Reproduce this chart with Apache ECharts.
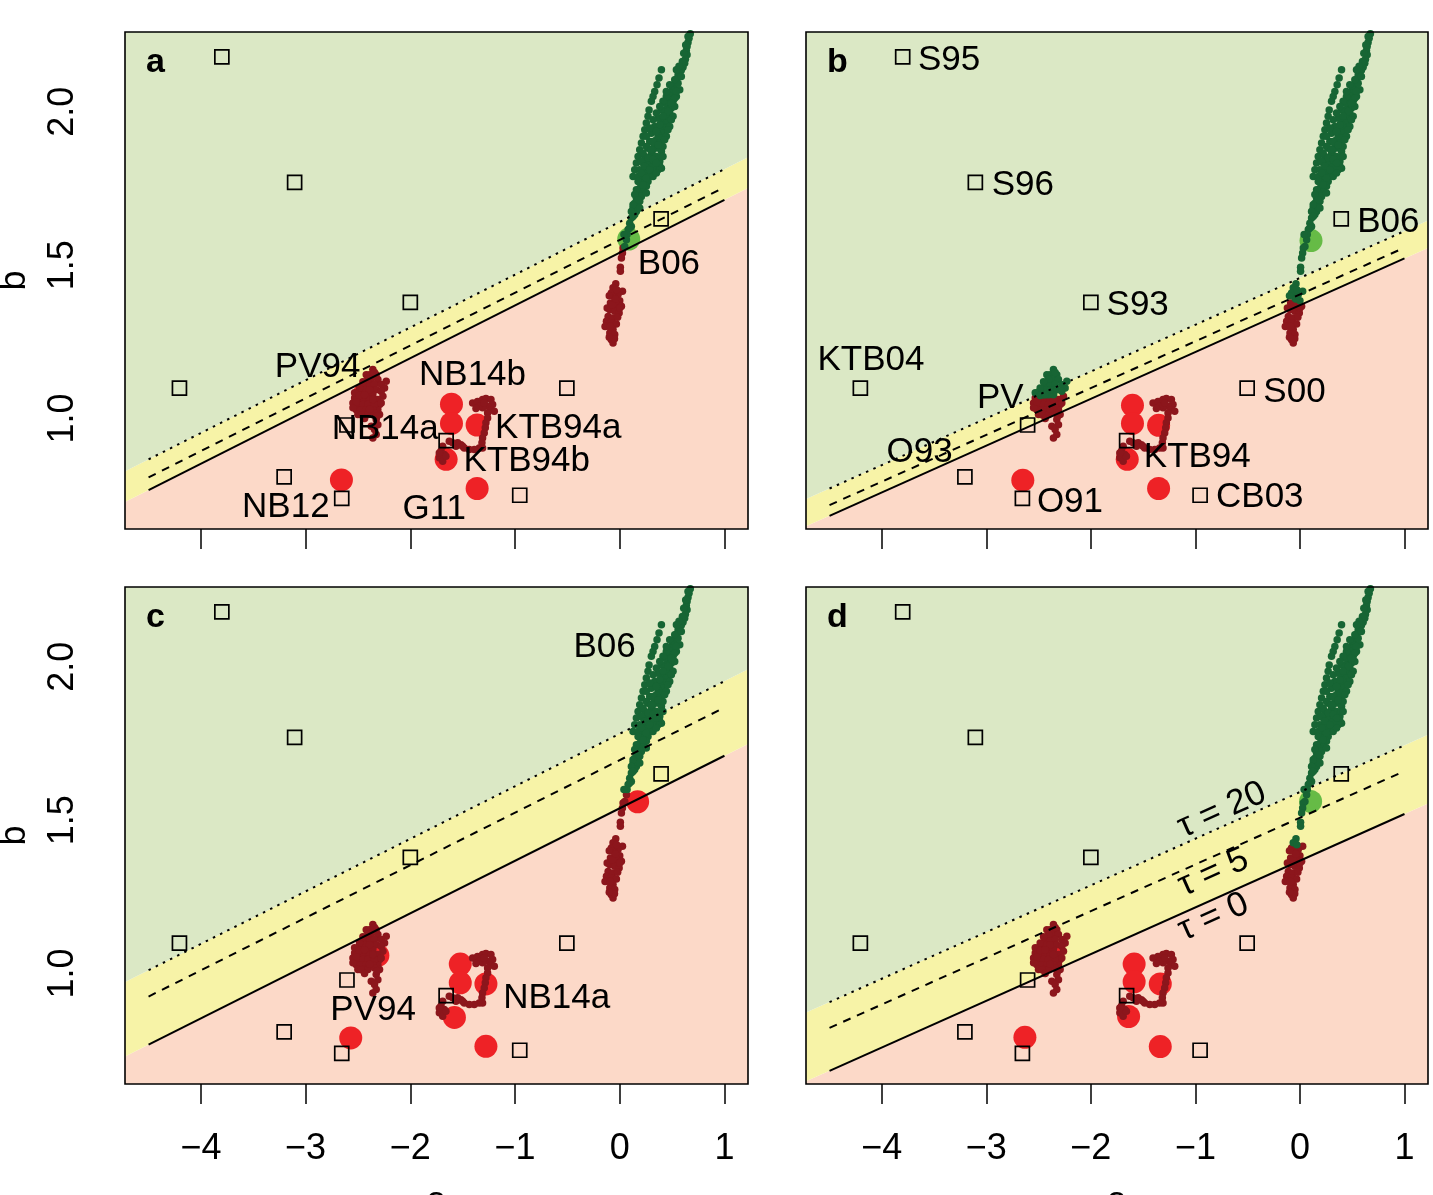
<!DOCTYPE html>
<html>
<head>
<meta charset="utf-8">
<script src="https://cdn.jsdelivr.net/npm/echarts@6/dist/echarts.min.js"></script>
<style>
  html, body { margin: 0; padding: 0; background: #ffffff; }
  #chart { width: 1433px; height: 1195px; }
</style>
</head>
<body>
<div id="chart"></div>
<script>
// ---- axis ticks ----
const xTicks = [-4, -3, -2, -1, 0, 1];
const yTicks = [1.0, 1.5, 2.0];
const panelNames = ['a', 'b', 'c', 'd'];

// ---- threshold lines (b at a = -4.5 and a = 1.0) ----
const lineEndX = [-4.5, 1.0];
const tau0A = [0.767, 1.713], tau5A = [0.808, 1.754], tau20A = [0.867, 1.813];
const tau0B = [0.683, 1.522], tau5B = [0.718, 1.557], tau20B = [0.772, 1.611];
const tau0C = [0.768, 1.710], tau5C = [0.925, 1.867], tau20C = [1.011, 1.953];
const tau0D = [0.683, 1.520], tau5D = [0.823, 1.660], tau20D = [0.907, 1.744];

// ---- reference sites (open squares), same in every panel ----
const siteA = [-3.800, -3.105, -2.000, -4.205, 0.395, -0.505, -3.205, -2.655, -1.658, -0.955, -2.605];
const siteB = [2.179, 1.770, 1.379, 1.099, 1.651, 1.099, 0.810, 0.740, 0.928, 0.750, 0.979];

// ---- point estimates per panel: red = below, green = above ----
const redA = [[-2.658, 0.800], [-1.607, 1.047], [-1.607, 0.984], [-1.362, 0.979], [-1.658, 0.867], [-1.362, 0.772], [-2.440, 1.080]];
const greenA = [[0.086, 1.585]];
const redB = [[-2.651, 0.799], [-1.602, 1.043], [-1.602, 0.984], [-1.352, 0.978], [-1.652, 0.867], [-1.352, 0.772]];
const greenB = [[0.106, 1.580], [-2.430, 1.076]];
const redC = [[-2.569, 0.790], [-1.523, 1.031], [-1.523, 0.970], [-1.278, 0.966], [-1.579, 0.857], [-1.278, 0.763], [0.171, 1.560], [-2.310, 1.059]];
const greenC = [];
const redD = [[-2.631, 0.792], [-1.586, 1.031], [-1.586, 0.973], [-1.336, 0.966], [-1.639, 0.860], [-1.336, 0.762], [-2.377, 1.068]];
const greenD = [[0.102, 1.561]];

// ---- trajectories ----
const trailB06 = [
  [0.674, 2.254], [0.662, 2.240], [0.652, 2.226], [0.643, 2.213], [0.636, 2.200], [0.643, 2.186], [0.627, 2.171],
  [0.620, 2.158], [0.604, 2.145], [0.588, 2.135], [0.573, 2.128], [0.557, 2.120], [0.541, 2.106], [0.534, 2.093],
  [0.515, 2.082], [0.503, 2.072], [0.493, 2.061], [0.483, 2.050], [0.471, 2.039], [0.509, 2.034], [0.461, 2.023],
  [0.493, 2.012], [0.445, 2.006], [0.477, 1.996], [0.429, 1.990], [0.461, 1.979], [0.413, 1.974], [0.445, 1.963],
  [0.398, 1.958], [0.429, 1.947], [0.382, 1.941], [0.413, 1.930], [0.366, 1.925], [0.398, 1.914], [0.350, 1.909],
  [0.382, 1.898], [0.334, 1.892], [0.366, 1.882], [0.318, 1.876], [0.398, 1.871], [0.302, 1.865], [0.350, 1.854],
  [0.286, 1.849], [0.382, 1.838], [0.270, 1.833], [0.334, 1.827], [0.398, 1.816], [0.254, 1.816], [0.302, 1.806],
  [0.239, 1.800], [0.286, 1.789], [0.223, 1.784], [0.270, 1.773], [0.207, 1.768], [0.254, 1.757], [0.191, 1.751],
  [0.223, 1.740], [0.175, 1.735], [0.207, 1.724], [0.159, 1.719], [0.191, 1.708], [0.143, 1.702], [0.175, 1.692],
  [0.127, 1.686], [0.159, 1.675], [0.143, 1.665], [0.111, 1.654], [0.095, 1.637], [0.111, 1.626], [0.080, 1.616],
  [0.398, 2.137], [0.375, 2.110], [0.356, 2.088], [0.334, 2.066], [0.318, 2.050], [0.302, 2.034], [0.280, 2.006],
  [0.270, 1.985], [0.254, 1.963], [0.239, 1.941], [0.223, 1.920], [0.207, 1.898], [0.191, 1.876], [0.175, 1.854],
  [0.159, 1.833], [0.143, 1.811], [0.127, 1.789],
  [0.557, 2.093], [0.573, 2.072], [0.541, 2.050], [0.525, 2.017], [0.509, 1.985], [0.477, 1.952], [0.445, 1.920],
  [0.413, 1.887], [0.398, 1.854], [0.382, 1.822], [0.366, 1.811], [0.318, 1.822],
  [0.445, 2.050], [0.429, 2.028], [0.398, 2.006], [0.366, 1.979], [0.334, 1.952], [0.302, 1.930], [0.286, 1.903],
  [0.270, 1.881], [0.239, 1.854], [0.223, 1.833], [0.191, 1.811], [0.175, 1.789], [0.318, 1.789], [0.350, 1.800],
  [0.525, 2.104], [0.477, 2.088], [0.541, 2.066], [0.445, 2.066], [0.525, 2.044], [0.413, 2.034], [0.493, 2.028],
  [0.382, 2.017], [0.461, 2.001], [0.350, 1.996], [0.413, 1.985], [0.493, 1.974], [0.318, 1.974], [0.382, 1.958],
  [0.461, 1.941], [0.286, 1.947], [0.350, 1.936], [0.429, 1.909], [0.254, 1.920], [0.318, 1.903], [0.366, 1.892],
  [0.254, 1.887], [0.302, 1.876], [0.413, 1.854], [0.223, 1.865], [0.270, 1.849], [0.318, 1.844], [0.207, 1.838],
  [0.239, 1.822], [0.286, 1.811], [0.350, 1.833], [0.207, 1.800], [0.254, 1.784], [0.175, 1.773], [0.223, 1.762],
  [0.159, 1.746], [0.254, 1.735], [0.143, 1.730], [0.175, 1.713], [0.127, 1.697], [0.191, 1.686], [0.111, 1.675],
  [0.127, 1.659], [0.095, 1.621],
  [0.684, 2.262], [0.652, 2.245], [0.630, 2.218], [0.611, 2.191], [0.598, 2.164], [0.566, 2.148], [0.541, 2.137],
  [0.588, 2.115],
  [0.070, 1.600], [0.064, 1.583], [0.048, 1.561], [0.040, 1.600],
  [0.032, 1.556], [0.026, 1.540], [0.016, 1.523], [0.006, 1.493], [0.006, 1.480], [-0.038, 1.439], [-0.064, 1.426],
  [0.026, 1.415], [-0.080, 1.409], [-0.016, 1.404], [-0.048, 1.393], [0.000, 1.384], [-0.089, 1.377], [-0.032, 1.371],
  [0.016, 1.366], [-0.095, 1.355], [-0.048, 1.350], [-0.006, 1.344], [-0.111, 1.333], [-0.064, 1.328], [-0.127, 1.317],
  [-0.080, 1.312], [-0.032, 1.308], [-0.111, 1.301], [-0.064, 1.290], [-0.095, 1.279], [-0.048, 1.274], [-0.080, 1.257],
  [-0.064, 1.246], [-0.100, 1.400], [-0.030, 1.420], [-0.120, 1.360], [-0.070, 1.370], [-0.020, 1.330], [-0.140, 1.300],
  [-0.090, 1.300], [-0.050, 1.260], [-0.100, 1.265], [0.000, 1.360], [-0.040, 1.390]
];
const trailPV = [
  [-2.358, 1.160], [-2.389, 1.143], [-2.326, 1.143], [-2.421, 1.143], [-2.373, 1.127], [-2.310, 1.127], [-2.230, 1.122],
  [-2.437, 1.111], [-2.389, 1.111], [-2.342, 1.111], [-2.278, 1.111], [-2.246, 1.100], [-2.469, 1.094], [-2.421, 1.094],
  [-2.373, 1.094], [-2.326, 1.094], [-2.278, 1.089], [-2.501, 1.084], [-2.453, 1.078], [-2.405, 1.078], [-2.358, 1.078],
  [-2.262, 1.073], [-2.532, 1.067], [-2.485, 1.062], [-2.437, 1.062], [-2.389, 1.062], [-2.310, 1.062], [-2.548, 1.051],
  [-2.501, 1.046], [-2.453, 1.046], [-2.405, 1.046], [-2.294, 1.046], [-2.516, 1.029], [-2.469, 1.029], [-2.421, 1.029],
  [-2.310, 1.029], [-2.501, 1.013], [-2.453, 1.013], [-2.294, 1.013], [-2.326, 0.997], [-2.310, 0.980], [-2.373, 0.975],
  [-2.342, 0.964], [-2.326, 0.948], [-2.358, 0.937], [-2.485, 1.100], [-2.532, 1.084], [-2.342, 1.046], [-2.358, 1.029],
  [-2.405, 1.013], [-2.548, 1.035], [-2.278, 1.051], [-2.342, 1.018], [-2.316, 1.008],
  [-2.405, 1.128], [-2.342, 1.150], [-2.453, 1.120], [-2.485, 1.075], [-2.516, 1.055], [-2.469, 1.012], [-2.437, 1.000],
  [-2.389, 1.094], [-2.358, 1.062], [-2.437, 1.078], [-2.389, 1.030]
];
const trailNB = [
  [-1.405, 1.051], [-1.358, 1.056], [-1.310, 1.062], [-1.278, 1.065], [-1.230, 1.062], [-1.214, 1.046], [-1.262, 1.040],
  [-1.310, 1.035], [-1.342, 1.040], [-1.373, 1.033], [-1.230, 1.029], [-1.198, 1.024], [-1.262, 1.018], [-1.294, 1.051],
  [-1.262, 1.002], [-1.278, 0.986], [-1.284, 0.970], [-1.294, 0.953], [-1.310, 0.937], [-1.316, 0.921], [-1.310, 0.904],
  [-1.342, 0.904], [-1.389, 0.899], [-1.437, 0.899], [-1.485, 0.904], [-1.517, 0.915], [-1.548, 0.921], [-1.564, 0.910],
  [-1.501, 0.910], [-1.596, 0.921], [-1.628, 0.926], [-1.691, 0.910], [-1.707, 0.894], [-1.676, 0.883], [-1.723, 0.872],
  [-1.691, 0.861], [-1.660, 0.877], [-1.723, 0.888]
];
// b value from which a trajectory is drawn green, per panel
const splitB06 = [1.56, 1.38, 1.59, 1.42];
const splitPV = [9, 1.075, 9, 9];

// ---- text labels ----
const labelsA = [
  { name: 'B06', value: [0.470, 1.502] }, { name: 'PV94', value: [-2.885, 1.166] },
  { name: 'NB14b', value: [-1.406, 1.140] }, { name: 'NB14a', value: [-2.240, 0.965] },
  { name: 'KTB94a', value: [-0.587, 0.968] }, { name: 'KTB94b', value: [-0.889, 0.860] },
  { name: 'NB12', value: [-3.189, 0.710] }, { name: 'G11', value: [-1.772, 0.704] }
];
const labelsB = [
  { name: 'S95', value: [-3.356, 2.168] }, { name: 'S96', value: [-2.651, 1.761] },
  { name: 'S93', value: [-1.552, 1.370] }, { name: 'KTB04', value: [-4.104, 1.190] },
  { name: 'B06', value: [0.846, 1.641] }, { name: 'S00', value: [-0.052, 1.087] },
  { name: 'PV', value: [-2.867, 1.065] }, { name: 'O93', value: [-3.638, 0.891] },
  { name: 'KTB94', value: [-0.982, 0.875] }, { name: 'O91', value: [-2.200, 0.728] },
  { name: 'CB03', value: [-0.384, 0.742] }
];
const labelsC = [
  { name: 'B06', value: [-0.144, 2.063] }, { name: 'PV94', value: [-2.356, 0.879] },
  { name: 'NB14a', value: [-0.602, 0.920] }
];
const labelsD = [];
const tauLabelsD = [
  { name: '\u03C4 = 20', value: [-0.746, 1.533] },
  { name: '\u03C4 = 5', value: [-0.828, 1.329] },
  { name: '\u03C4 = 0', value: [-0.828, 1.184] }
];

// ---- layout ----
const FONT = '"Liberation Sans", Arial, Helvetica, sans-serif';
const X_MIN = -4.725, X_MAX = 1.225, Y_MIN = 0.64, Y_MAX = 2.26;
const gridBoxes = [
  { left: 125, top: 32, width: 623, height: 497 },
  { left: 806, top: 32, width: 622, height: 497 },
  { left: 125, top: 587, width: 623, height: 497 },
  { left: 806, top: 587, width: 622, height: 497 }
];
const C_GREEN_BG = '#DBE8C5', C_YELLOW_BG = '#F7F3A7', C_PINK_BG = '#FCD9C8';
const C_DARKRED = '#8C161C', C_DARKGREEN = '#176534', C_RED = '#EE2226', C_LIGHTGREEN = '#66BB46';

const tau0s = [tau0A, tau0B, tau0C, tau0D];
const tau5s = [tau5A, tau5B, tau5C, tau5D];
const tau20s = [tau20A, tau20B, tau20C, tau20D];
const reds = [redA, redB, redC, redD];
const greens = [greenA, greenB, greenC, greenD];
const labelSets = [labelsA, labelsB, labelsC, labelsD];

function minusFmt(v) {
  return v < 0 ? '\u2212' + Math.abs(v) : String(v);
}

const textLabel = {
  show: true, position: 'inside', formatter: '{b}', fontSize: 35, color: '#000000',
  fontFamily: FONT, textBorderWidth: 0, textShadowBlur: 0, opacity: 1
};

const grids = [], xAxes = [], yAxes = [], series = [], graphics = [];

panelNames.forEach(function (p, i) {
  const box = gridBoxes[i];
  const bottomRow = i >= 2, leftCol = (i % 2) === 0;
  grids.push(Object.assign({ containLabel: false, outerBoundsMode: 'none' }, box));

  xAxes.push({
    gridIndex: i, type: 'value', min: X_MIN, max: X_MAX,
    axisLine: { show: false }, splitLine: { show: false },
    axisTick: { show: true, length: 20, customValues: xTicks, lineStyle: { color: '#000', width: 1.5 } },
    axisLabel: { show: bottomRow, customValues: xTicks, formatter: minusFmt, fontSize: 36, color: '#000', fontFamily: FONT, margin: 47 },
    name: bottomRow ? 'a' : '', nameLocation: 'middle', nameGap: 100,
    nameTextStyle: { fontSize: 36, color: '#000', fontFamily: FONT }
  });
  yAxes.push({
    gridIndex: i, type: 'value', min: Y_MIN, max: Y_MAX,
    axisLine: { show: false }, splitLine: { show: false },
    axisTick: { show: true, length: 20, customValues: yTicks, lineStyle: { color: '#000', width: 1.5 } },
    axisLabel: { show: leftCol, customValues: yTicks, rotate: 90, formatter: function (v) { return v.toFixed(1); },
                 fontSize: 36, color: '#000', fontFamily: FONT, margin: 44 },
    name: leftCol ? 'b' : '', nameLocation: 'middle', nameGap: 92,
    nameTextStyle: { fontSize: 36, color: '#000', fontFamily: FONT }
  });

  const t0 = tau0s[i], t5 = tau5s[i], t20 = tau20s[i];

  // background regions: above tau=20 line, between tau=20 and tau=0, below tau=0
  series.push({
    type: 'custom', xAxisIndex: i, yAxisIndex: i, silent: true, clip: true,
    data: [[t0[0], t0[1], t20[0], t20[1]]],
    renderItem: function (params, api) {
      const x0 = lineEndX[0], x1 = lineEndX[1];
      function along(ya, yb, x) { return ya + (yb - ya) * (x - x0) / (x1 - x0); }
      const s0 = api.value(0), s1 = api.value(1), d0 = api.value(2), d1 = api.value(3);
      const sl = along(s0, s1, X_MIN), sr = along(s0, s1, X_MAX);
      const dl = along(d0, d1, X_MIN), dr = along(d0, d1, X_MAX);
      function poly(pts, color) {
        return { type: 'polygon', shape: { points: pts.map(function (q) { return api.coord(q); }) },
                 style: { fill: color, stroke: null } };
      }
      return { type: 'group', children: [
        poly([[X_MIN, Y_MIN], [X_MAX, Y_MIN], [X_MAX, sr], [X_MIN, sl]], C_PINK_BG),
        poly([[X_MIN, sl], [X_MAX, sr], [X_MAX, dr], [X_MIN, dl]], C_YELLOW_BG),
        poly([[X_MIN, dl], [X_MAX, dr], [X_MAX, Y_MAX], [X_MIN, Y_MAX]], C_GREEN_BG)
      ] };
    }
  });

  // threshold lines
  [[t0, 'solid'], [t5, [8, 7]], [t20, [2.5, 5.5]]].forEach(function (ln) {
    series.push({
      type: 'line', xAxisIndex: i, yAxisIndex: i, symbol: 'none', silent: true,
      data: [[lineEndX[0], ln[0][0]], [lineEndX[1], ln[0][1]]],
      lineStyle: { color: '#000', width: 2, type: ln[1] }
    });
  });

  // point estimates
  series.push({
    type: 'scatter', xAxisIndex: i, yAxisIndex: i, symbol: 'circle', symbolSize: 23, silent: true,
    data: reds[i], itemStyle: { color: C_RED, opacity: 1 }
  });
  series.push({
    type: 'scatter', xAxisIndex: i, yAxisIndex: i, symbol: 'circle', symbolSize: 23, silent: true,
    data: greens[i], itemStyle: { color: C_LIGHTGREEN, opacity: 1 }
  });

  // trajectories
  const darkPts = [], greenPts = [];
  trailB06.forEach(function (q) { (q[1] >= splitB06[i] ? greenPts : darkPts).push(q); });
  trailPV.forEach(function (q) { (q[1] >= splitPV[i] ? greenPts : darkPts).push(q); });
  trailNB.forEach(function (q) { darkPts.push(q); });
  series.push({
    type: 'scatter', xAxisIndex: i, yAxisIndex: i, symbolSize: 7.5, silent: true,
    data: darkPts, itemStyle: { color: C_DARKRED, opacity: 1 }
  });
  series.push({
    type: 'scatter', xAxisIndex: i, yAxisIndex: i, symbolSize: 7.5, silent: true,
    data: greenPts, itemStyle: { color: C_DARKGREEN, opacity: 1 }
  });

  // reference sites
  series.push({
    type: 'scatter', xAxisIndex: i, yAxisIndex: i, symbol: 'rect', symbolSize: 14, silent: true,
    data: siteA.map(function (a, k) { return [a, siteB[k]]; }),
    itemStyle: { color: 'rgba(0,0,0,0)', borderColor: '#000', borderWidth: 1.7, opacity: 1 }
  });

  // site labels
  series.push({
    type: 'scatter', xAxisIndex: i, yAxisIndex: i, symbolSize: 0, silent: true,
    data: labelSets[i], itemStyle: { opacity: 1 },
    label: textLabel
  });

  if (p === 'd') {
    series.push({
      type: 'scatter', xAxisIndex: i, yAxisIndex: i, symbolSize: 0, silent: true,
      data: tauLabelsD, itemStyle: { opacity: 1 },
      label: Object.assign({}, textLabel, { rotate: 24 })
    });
  }

  // frame and panel letter
  graphics.push({
    type: 'rect', z: 100, silent: true,
    shape: { x: box.left, y: box.top, width: box.width, height: box.height },
    style: { fill: null, stroke: '#000', lineWidth: 1.6 }
  });
  graphics.push({
    type: 'text', z: 100, silent: true, x: box.left + 21, y: box.top + 31,
    style: { text: p, font: 'bold 34px ' + FONT, fill: '#000', verticalAlign: 'middle', align: 'left' }
  });
});

const chart = echarts.init(document.getElementById('chart'), null, { renderer: 'canvas' });
chart.setOption({
  animation: false,
  backgroundColor: '#ffffff',
  grid: grids,
  xAxis: xAxes,
  yAxis: yAxes,
  series: series,
  graphic: graphics
});
</script>
</body>
</html>
